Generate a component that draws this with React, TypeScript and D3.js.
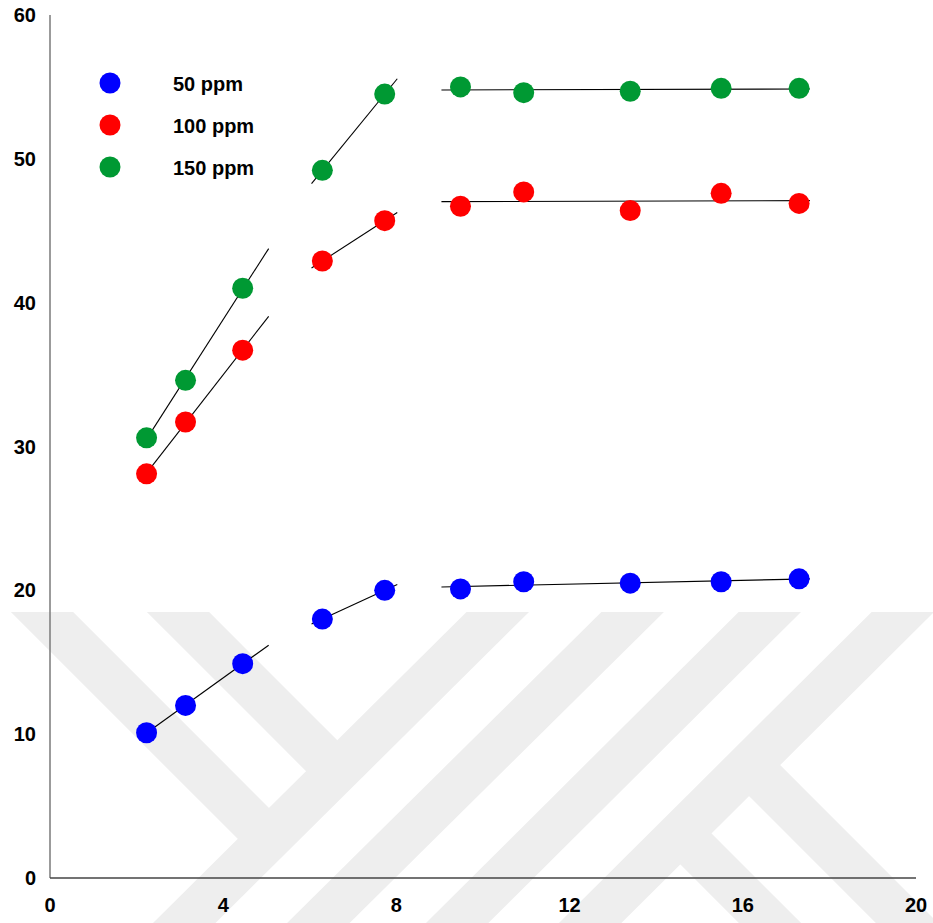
import React from 'react';
import * as d3 from 'd3';

// reaction time (x) and measured values for each concentration
const time = [2.23, 3.13, 4.45, 6.29, 7.73, 9.48, 10.94, 13.4, 15.5, 17.3];
const ppm50 = [10.1, 12.0, 14.9, 18.0, 20.0, 20.1, 20.6, 20.5, 20.6, 20.8];
const ppm100 = [28.1, 31.7, 36.7, 42.9, 45.7, 46.7, 47.7, 46.4, 47.6, 46.9];
const ppm150 = [30.6, 34.6, 41.0, 49.2, 54.5, 55.0, 54.6, 54.7, 54.9, 54.9];

const seriesNames = ['50 ppm', '100 ppm', '150 ppm'];
const seriesColors = ['#0000ff', '#ff0000', '#009933'];

// trend line pieces: which points are fitted, and the x span drawn
const trendFrom = [0, 3, 5];
const trendTo = [3, 5, 10];
const trendX0 = [2.23, 6.04, 9.04];
const trendX1 = [5.05, 8.02, 17.55];

const xTicks = [0, 4, 8, 12, 16, 20];
const yTicks = [0, 10, 20, 30, 40, 50, 60];

const width = 933;
const height = 923;
const margin = { top: 15, right: 17, bottom: 45, left: 50 };

const FONT = '"Liberation Sans", Arial, sans-serif';

function fit(xs: number[], ys: number[]) {
  const mx = d3.mean(xs) as number;
  const my = d3.mean(ys) as number;
  let num = 0;
  let den = 0;
  xs.forEach((x, i) => {
    num += (x - mx) * (ys[i] - my);
    den += (x - mx) * (x - mx);
  });
  const slope = den === 0 ? 0 : num / den;
  return (x: number) => my + slope * (x - mx);
}

const App: React.FC = () => {
  const x = d3.scaleLinear().domain([0, 20]).range([margin.left, width - margin.right]);
  const y = d3.scaleLinear().domain([0, 60]).range([height - margin.bottom, margin.top]);

  const series = [ppm50, ppm100, ppm150];

  // background watermark bands
  const wmBands: [number, number, number, number][] = [
    [528, 582, 152, 955],
    [663, 582, 286, 955],
    [800, 582, 425, 955],
    [933, 582, 558, 955],
  ];
  const wmArms: [number, number, number, number][] = [
    [12, 582, 268, 838],
    [148, 582, 337, 771],
    [749, 765, 939, 955],
    [680, 833, 802, 955],
  ];

  return (
    <div style={{ position: 'absolute', left: 0, top: 0 }}>
      <svg width={width} height={height} style={{ display: 'block', background: '#fff' }}>
        <defs>
          <clipPath id="wm-clip">
            <rect x={0} y={612} width={width} height={height - 612} />
          </clipPath>
        </defs>
        <g clipPath="url(#wm-clip)" stroke="#eeeeee" strokeWidth={44}>
          {wmBands.concat(wmArms).map((l, i) => (
            <line key={i} x1={l[0]} y1={l[1]} x2={l[2]} y2={l[3]} />
          ))}
        </g>

        {/* axes */}
        <line x1={x(0)} x2={x(0)} y1={y(60)} y2={y(0)} stroke="#7a7a7a" strokeWidth={1.5} />
        <line x1={x(0)} x2={x(20)} y1={y(0)} y2={y(0)} stroke="#444" strokeWidth={1.5} />

        <g fontFamily={FONT} fontWeight="bold" fontSize={20} fill="#000">
          {yTicks.map(t => (
            <text key={t} x={36} y={y(t)} textAnchor="end" dominantBaseline="central">{t}</text>
          ))}
          {xTicks.map(t => (
            <text key={t} x={x(t)} y={912} textAnchor="middle">{t}</text>
          ))}
        </g>

        {/* trend lines */}
        <g stroke="#000" strokeWidth={1.1}>
          {series.map((vals, s) =>
            trendFrom.map((from, k) => {
              const f = fit(time.slice(from, trendTo[k]), vals.slice(from, trendTo[k]));
              return (
                <line
                  key={`${s}-${k}`}
                  x1={x(trendX0[k])}
                  y1={y(f(trendX0[k]))}
                  x2={x(trendX1[k])}
                  y2={y(f(trendX1[k]))}
                />
              );
            })
          )}
        </g>

        {/* points */}
        {series.map((vals, s) => (
          <g key={s} fill={seriesColors[s]}>
            {vals.map((v, i) => (
              <circle key={i} cx={x(time[i])} cy={y(v)} r={10.5} />
            ))}
          </g>
        ))}

        {/* legend */}
        <g fontFamily={FONT} fontWeight="bold" fontSize={20}>
          {seriesNames.map((name, i) => (
            <g key={name} transform={`translate(110,${83 + i * 42})`}>
              <circle r={10.5} fill={seriesColors[i]} />
              <text x={63} y={1} dominantBaseline="central" fill="#000">{name}</text>
            </g>
          ))}
        </g>
      </svg>
    </div>
  );
};

export default App;
